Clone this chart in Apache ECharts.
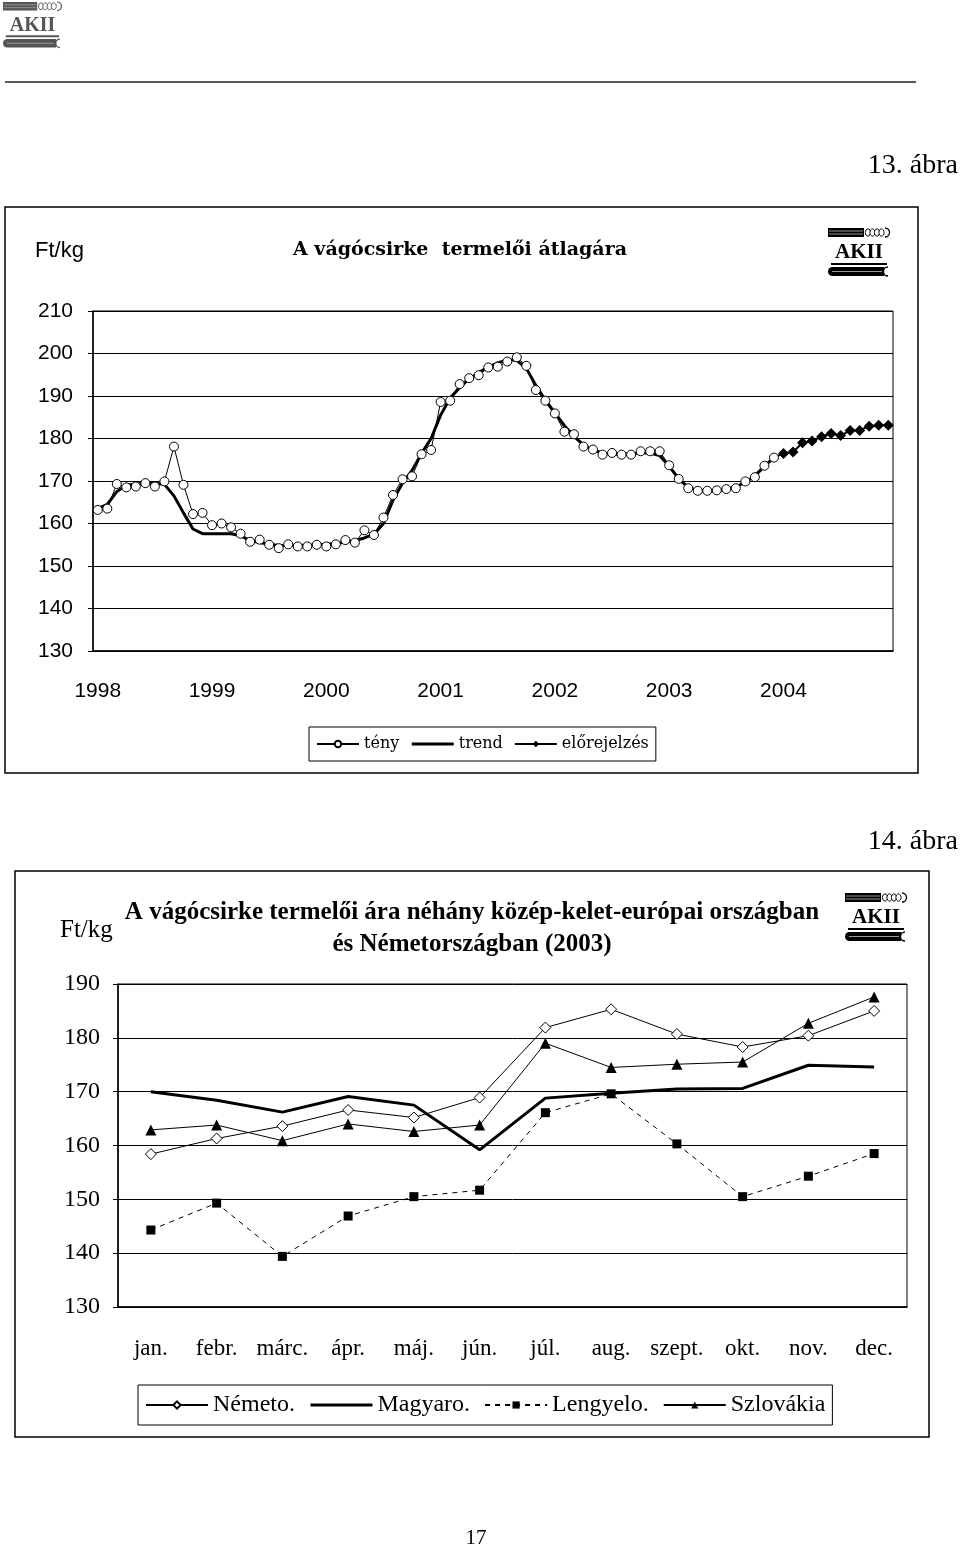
<!DOCTYPE html>
<html>
<head>
<meta charset="utf-8">
<script src="https://cdn.jsdelivr.net/npm/echarts/dist/echarts.min.js"></script>
<style>
html,body{margin:0;padding:0;background:#fff;}
#page{width:960px;height:1548px;}
</style>
</head>
<body>
<div id="page"></div>
<script>
// ---------- Chart 13: A vágócsirke termelői átlagára ----------
const years1 = ['1998','1999','2000','2001','2002','2003','2004'];
const yTicks1 = [130, 210, 10];
const teny = [
  163.2,163.5,169.3,168.5,168.7,169.5,168.7,169.9,178.1,169.1,162.2,162.5,
  159.6,160.0,159.1,157.6,155.7,156.2,155.0,154.2,155.1,154.6,154.6,155.0,
  154.6,155.1,156.1,155.5,158.4,157.3,161.4,166.7,170.4,171.1,176.3,177.3,
  188.6,188.9,192.8,194.2,194.9,196.7,196.9,198.1,199.1,197.1,191.4,188.9,
  185.9,181.6,181.0,178.1,177.4,176.2,176.6,176.2,176.2,177.0,177.0,177.0,
  173.7,170.5,168.3,167.7,167.7,167.8,168.1,168.3,169.9,170.9,173.6,175.5
];
const trend = [
  163.5,164.5,167.5,169.0,169.3,169.5,169.5,169.2,166.5,162.5,158.7,157.6,
  157.6,157.6,157.6,157.1,156.0,155.5,155.1,154.8,154.8,154.9,154.9,155.0,
  155.1,155.3,155.6,156.0,156.6,157.5,160.0,165.5,169.5,172.5,176.5,180.0,
  185.5,189.5,192.0,194.0,195.5,196.8,197.8,198.5,198.4,196.5,192.5,189.0,
  186.0,183.0,180.5,178.5,177.3,176.6,176.3,176.3,176.4,176.6,176.6,176.0,
  173.5,170.5,168.5,167.8,167.6,167.7,168.0,168.6,169.7,171.2,173.5,175.5
];
const elorejelzes = [176.5,176.8,179.0,179.4,180.4,181.2,180.7,181.9,181.9,182.9,183.1,183.1];

// ---------- Chart 14: néhány közép-kelet-európai ország ----------
const months2 = ['jan.','febr.','márc.','ápr.','máj.','jún.','júl.','aug.','szept.','okt.','nov.','dec.'];
const yTicks2 = [130, 190, 10];
const nemeto    = [158.4,161.3,163.6,166.6,165.2,168.9,181.9,185.3,180.7,178.3,180.4,185.0];
const magyaro   = [170.0,168.4,166.2,169.1,167.5,159.2,168.8,169.7,170.5,170.6,174.9,174.6];
const lengyelo  = [144.3,149.3,139.4,146.9,150.5,151.7,166.1,169.6,160.3,150.5,154.3,158.5];
const szlovakia = [162.9,163.8,160.9,164.0,162.6,163.8,179.0,174.5,175.1,175.5,182.7,187.6];

// build category list (monthly) for chart 13
const months1 = [];
years1.forEach(y => { for (let m = 1; m <= 12; m++) months1.push(y + '-' + (m < 10 ? '0' + m : m)); });
const forecastData = months1.map((_, i) => {
  if (i < teny.length - 1) return '-';
  if (i === teny.length - 1) return { value: teny[i], symbol: 'none' };
  return elorejelzes[i - teny.length];
});

function logo(x, y, s, color) {
  const c = color || '#000';
  return {
    type: 'group', x: x, y: y, scaleX: s, scaleY: s, z: 50,
    children: [
      { type: 'rect', shape: { x: 0, y: 0, width: 36, height: 9 }, style: { fill: c } },
      { type: 'line', shape: { x1: 1, y1: 3, x2: 35, y2: 3 }, style: { stroke: '#999', lineWidth: 1 } },
      { type: 'line', shape: { x1: 1, y1: 6, x2: 35, y2: 6 }, style: { stroke: '#999', lineWidth: 1 } },
      { type: 'ellipse', shape: { cx: 40, cy: 4.5, rx: 2.6, ry: 3.6 }, style: { fill: '#fff', stroke: c, lineWidth: 1 } },
      { type: 'ellipse', shape: { cx: 44.5, cy: 4.5, rx: 2.6, ry: 3.6 }, style: { fill: '#fff', stroke: c, lineWidth: 1 } },
      { type: 'ellipse', shape: { cx: 49, cy: 4.5, rx: 2.6, ry: 3.6 }, style: { fill: '#fff', stroke: c, lineWidth: 1 } },
      { type: 'ellipse', shape: { cx: 53.5, cy: 4.5, rx: 2.6, ry: 3.6 }, style: { fill: '#fff', stroke: c, lineWidth: 1 } },
      { type: 'arc', shape: { cx: 57, cy: 4.5, r: 4.5, startAngle: -Math.PI / 2, endAngle: Math.PI / 2 }, style: { stroke: c, fill: null, lineWidth: 1.3 } },
      { type: 'text', x: 31, y: 25, style: { text: 'AKII', font: 'bold 21px "Liberation Serif"', fill: c, textAlign: 'center', textVerticalAlign: 'middle' } },
      { type: 'rect', shape: { x: 3, y: 35, width: 56, height: 2 }, style: { fill: c } },
      { type: 'rect', shape: { x: 0, y: 39, width: 56, height: 9, r: [4.5, 0, 0, 4.5] }, style: { fill: c } },
      { type: 'line', shape: { x1: 4, y1: 43.5, x2: 54, y2: 43.5 }, style: { stroke: '#999', lineWidth: 1 } },
      { type: 'arc', shape: { cx: 60, cy: 43.5, r: 4.5, startAngle: Math.PI / 2, endAngle: Math.PI * 1.5 }, style: { stroke: c, fill: null, lineWidth: 1.3 } }
    ]
  };
}

const chart = echarts.init(document.getElementById('page'), null, { renderer: 'canvas' });
const black = '#000';
const sans = '"Liberation Sans", Arial, sans-serif';
const serif = '"Liberation Serif", "Times New Roman", serif';
const dserif = '"DejaVu Serif", serif';
const hiddenSym = { opacity: 0 };
const thickLine = { width: 3, color: black };

const option = {
  animation: false,
  backgroundColor: '#fff',
  grid: [
    { left: 93, top: 311, width: 800, height: 340, show: true, borderColor: black, borderWidth: 1, containLabel: false },
    { left: 118, top: 984, width: 789, height: 323, show: true, borderColor: black, borderWidth: 1, containLabel: false }
  ],
  xAxis: [
    {
      type: 'category', gridIndex: 0, data: months1, boundaryGap: true,
      axisLine: { lineStyle: { color: black, width: 1.5 } },
      axisTick: { interval: 5, length: 6, lineStyle: { color: black } },
      axisLabel: { interval: 11, margin: 30, color: black, fontFamily: sans, fontSize: 21, formatter: v => v.slice(0, 4) },
      splitLine: { show: false }
    },
    {
      type: 'category', gridIndex: 1, data: months2, boundaryGap: true,
      axisLine: { lineStyle: { color: black, width: 1.5 } },
      axisTick: { interval: 0, length: 6, lineStyle: { color: black } },
      axisLabel: { interval: 0, margin: 30, color: black, fontFamily: serif, fontSize: 23 },
      splitLine: { show: false }
    }
  ],
  yAxis: [
    {
      type: 'value', gridIndex: 0, min: yTicks1[0], max: yTicks1[1], interval: yTicks1[2],
      axisLine: { show: true, lineStyle: { color: black, width: 1.5 } },
      axisTick: { show: true, length: 5, lineStyle: { color: black } },
      axisLabel: { margin: 20, color: black, fontFamily: sans, fontSize: 21 },
      splitLine: { show: true, lineStyle: { color: black, width: 1 } }
    },
    {
      type: 'value', gridIndex: 1, min: yTicks2[0], max: yTicks2[1], interval: yTicks2[2],
      axisLine: { show: true, lineStyle: { color: black, width: 1.5 } },
      axisTick: { show: true, length: 5, lineStyle: { color: black } },
      axisLabel: { margin: 18, color: black, fontFamily: serif, fontSize: 24 },
      splitLine: { show: true, lineStyle: { color: black, width: 1 } }
    }
  ],
  legend: [
    {
      data: ['tény', { name: 'trend', itemStyle: hiddenSym, lineStyle: thickLine }, 'előrejelzés'],
      left: 309, top: 727, orient: 'horizontal',
      padding: [9, 7], itemGap: 11, itemWidth: 42, itemHeight: 8,
      borderColor: black, borderWidth: 1, backgroundColor: '#fff',
      selectedMode: false,
      textStyle: { color: black, fontFamily: dserif, fontSize: 16 }
    },
    {
      data: ['Németo.', { name: 'Magyaro.', itemStyle: hiddenSym, lineStyle: thickLine }, 'Lengyelo.', 'Szlovákia'],
      left: 138, top: 1385, orient: 'horizontal',
      padding: [8, 7], itemGap: 14, itemWidth: 62, itemHeight: 9,
      borderColor: black, borderWidth: 1, backgroundColor: '#fff',
      selectedMode: false,
      textStyle: { color: black, fontFamily: serif, fontSize: 24 }
    }
  ],
  series: [
    {
      name: 'trend', type: 'line', xAxisIndex: 0, yAxisIndex: 0, data: trend,
      symbol: 'none', lineStyle: { color: black, width: 3 }, itemStyle: { color: black }, z: 2
    },
    {
      name: 'tény', type: 'line', xAxisIndex: 0, yAxisIndex: 0, data: teny,
      symbol: 'circle', symbolSize: 9, showAllSymbol: true,
      lineStyle: { color: black, width: 1 },
      itemStyle: { color: '#fff', borderColor: black, borderWidth: 1 }, z: 4
    },
    {
      name: 'előrejelzés', type: 'line', xAxisIndex: 0, yAxisIndex: 0, data: forecastData,
      symbol: 'diamond', symbolSize: 11, showAllSymbol: true,
      lineStyle: { color: black, width: 2 }, itemStyle: { color: black }, z: 3
    },
    {
      name: 'Magyaro.', type: 'line', xAxisIndex: 1, yAxisIndex: 1, data: magyaro,
      symbol: 'none', lineStyle: { color: black, width: 3 }, itemStyle: { color: black }, z: 2
    },
    {
      name: 'Lengyelo.', type: 'line', xAxisIndex: 1, yAxisIndex: 1, data: lengyelo,
      symbol: 'rect', symbolSize: 9,
      lineStyle: { color: black, width: 1, type: [5, 5] }, itemStyle: { color: black }, z: 3
    },
    {
      name: 'Németo.', type: 'line', xAxisIndex: 1, yAxisIndex: 1, data: nemeto,
      symbol: 'diamond', symbolSize: 11,
      lineStyle: { color: black, width: 1 },
      itemStyle: { color: '#fff', borderColor: black, borderWidth: 1 }, z: 4
    },
    {
      name: 'Szlovákia', type: 'line', xAxisIndex: 1, yAxisIndex: 1, data: szlovakia,
      symbol: 'triangle', symbolSize: 11,
      lineStyle: { color: black, width: 1 }, itemStyle: { color: black }, z: 4
    }
  ],
  graphic: {
    elements: [
      // page header
      logo(3, 2, 0.95, '#555'),
      { type: 'line', shape: { x1: 5, y1: 82, x2: 916, y2: 82 }, style: { stroke: '#222', lineWidth: 1.5 } },
      { type: 'text', x: 958, y: 166, style: { text: '13. ábra', font: '28px ' + serif, fill: black, textAlign: 'right', textVerticalAlign: 'middle' } },
      { type: 'text', x: 958, y: 842, style: { text: '14. ábra', font: '28px ' + serif, fill: black, textAlign: 'right', textVerticalAlign: 'middle' } },
      { type: 'text', x: 476, y: 1538, style: { text: '17', font: '21px ' + serif, fill: black, textAlign: 'center', textVerticalAlign: 'middle' } },
      // chart 13 frame
      { type: 'rect', shape: { x: 5, y: 207, width: 913, height: 566 }, style: { fill: 'none', stroke: black, lineWidth: 1.5 } },
      { type: 'text', x: 35, y: 251, style: { text: 'Ft/kg', font: '22px ' + sans, fill: black, textAlign: 'left', textVerticalAlign: 'middle' } },
      { type: 'text', x: 460, y: 250, style: { text: 'A vágócsirke  termelői átlagára', font: 'bold 19px ' + dserif, fill: black, textAlign: 'center', textVerticalAlign: 'middle' } },
      logo(828, 228, 1.0),
      // chart 14 frame
      { type: 'rect', shape: { x: 15, y: 871, width: 914, height: 566 }, style: { fill: 'none', stroke: black, lineWidth: 1.5 } },
      { type: 'text', x: 60, y: 930, style: { text: 'Ft/kg', font: '25px ' + serif, fill: black, textAlign: 'left', textVerticalAlign: 'middle' } },
      { type: 'text', x: 472, y: 913, style: { text: 'A vágócsirke termelői ára néhány közép-kelet-európai országban', font: 'bold 25px ' + serif, fill: black, textAlign: 'center', textVerticalAlign: 'middle' } },
      { type: 'text', x: 472, y: 945, style: { text: 'és Németországban (2003)', font: 'bold 25px ' + serif, fill: black, textAlign: 'center', textVerticalAlign: 'middle' } },
      logo(845, 893, 1.0)
    ]
  }
};
chart.setOption(option);
</script>
</body>
</html>
